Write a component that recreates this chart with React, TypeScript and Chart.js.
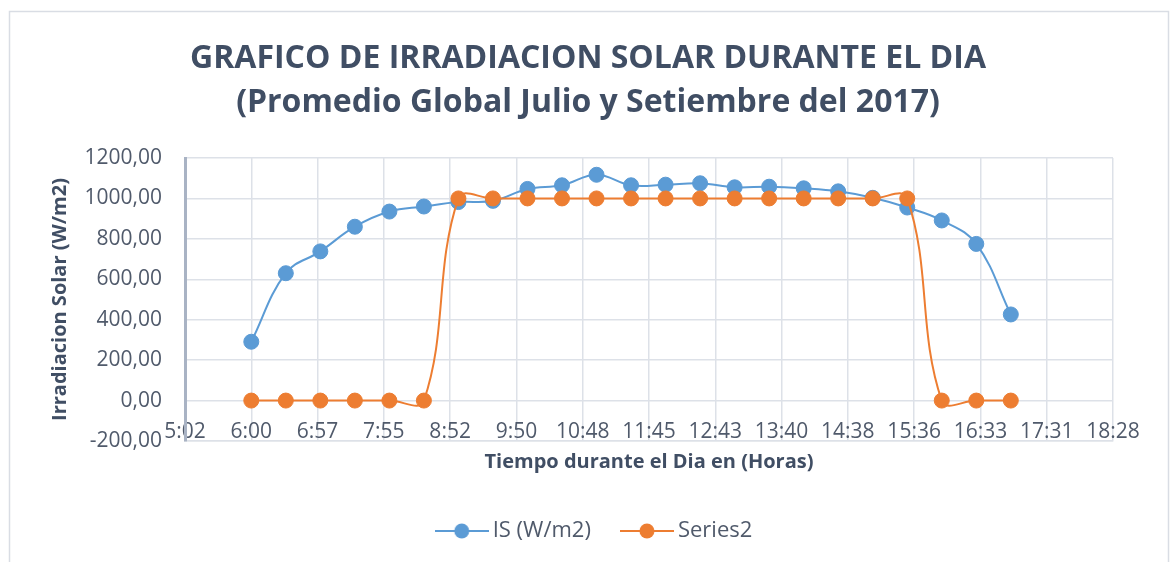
import React, { useEffect, useRef } from 'react';
import { Chart, registerables } from 'chart.js';

Chart.register(...registerables);

// ---- data ----
const times = ['6:00', '6:30', '7:00', '7:30', '8:00', '8:30', '9:00', '9:30', '10:00', '10:30', '11:00', '11:30',
  '12:00', '12:30', '13:00', '13:30', '14:00', '14:30', '15:00', '15:30', '16:00', '16:30', '17:00'];
const irradiance = [291, 630, 738, 860, 935, 960, 982, 988, 1047, 1065, 1117, 1065,
  1068, 1075, 1055, 1058, 1050, 1035, 1003, 955, 891, 775, 426];
const series2 = [0, 0, 0, 0, 0, 0, 1000, 1000, 1000, 1000, 1000, 1000,
  1000, 1000, 1000, 1000, 1000, 1000, 1000, 1000, 0, 0, 0];
const seriesNames = ['IS (W/m2)', 'Series2'];
const seriesColors = ['#5b9bd5', '#ed7d31'];
const xTickLabels = ['5:02', '6:00', '6:57', '7:55', '8:52', '9:50', '10:48', '11:45', '12:43', '13:40', '14:38',
  '15:36', '16:33', '17:31', '18:28'];
const X_MIN = 302.4; // minutes (5:02.4)
const X_STEP = 57.6;
const X_MAX = 1108.8;
const Y_MIN = -200;
const Y_MAX = 1200;
const Y_STEP = 200;
const titleLines = ['GRAFICO DE IRRADIACION SOLAR DURANTE EL DIA', '(Promedio Global Julio y Setiembre del 2017)'];
const yTitle = 'Irradiacion Solar (W/m2)';
const xTitle = 'Tiempo durante el Dia en (Horas)';

const toMinutes = (t: string) => {
  const [h, m] = t.split(':').map(Number);
  return h * 60 + m;
};

const FONT = '"Open Sans", sans-serif';
const TEXT = '#505a6b';
const TITLE = '#404e64';
const GRID = '#dde1e8';

function legendSymbol(color: string) {
  const w = 54, h = 18;
  const c = document.createElement('canvas');
  c.width = w;
  c.height = h;
  const g = c.getContext('2d')!;
  g.strokeStyle = color;
  g.lineWidth = 2;
  g.beginPath();
  g.moveTo(0, h / 2);
  g.lineTo(w, h / 2);
  g.stroke();
  g.fillStyle = color;
  g.beginPath();
  g.arc(w / 2, h / 2, 7.5, 0, Math.PI * 2);
  g.fill();
  return c;
}

const framePlugin = {
  id: 'frame',
  afterLayout(chart: any) {
    if (chart.legend) {
      chart.legend.left += 9;
      chart.legend.right += 9;
    }
  },
  beforeDraw(chart: any) {
    const { ctx } = chart;
    ctx.save();
    ctx.fillStyle = '#ffffff';
    ctx.fillRect(0, 0, chart.width, chart.height);
    ctx.strokeStyle = '#d9dde4';
    ctx.lineWidth = 1.5;
    ctx.strokeRect(9.5, 11.5, 1159, 620);
    ctx.restore();
  },
};

export default function App() {
  const ref = useRef<HTMLCanvasElement>(null);

  useEffect(() => {
    document.body.style.margin = '0';
    const symbols = seriesColors.map(legendSymbol);
    const datasets = [irradiance, series2].map((vals, i) => ({
      label: seriesNames[i],
      data: times.map((t, j) => ({ x: toMinutes(t), y: vals[j] })),
      borderColor: seriesColors[i],
      backgroundColor: seriesColors[i],
      pointBackgroundColor: seriesColors[i],
      pointBorderColor: seriesColors[i],
      pointRadius: 7.5,
      pointBorderWidth: 1,
      borderWidth: 2,
      tension: 0.4,
      order: i === 0 ? 1 : 0,
    }));

    const chart = new Chart(ref.current!, {
      type: 'line',
      data: { datasets },
      plugins: [framePlugin],
      options: {
        responsive: false,
        animation: false,
        font: { family: FONT },
        layout: { padding: { left: 0, right: 0, top: 0, bottom: 10 } },
        plugins: {
          title: {
            display: true,
            text: titleLines,
            color: TITLE,
            font: { family: FONT, size: 32, weight: 'bold', lineHeight: 1.375 },
            padding: { top: 37, bottom: 33 },
          },
          legend: {
            position: 'bottom',
            labels: {
              usePointStyle: true,
              pointStyleWidth: 40,
              padding: 36,
              color: TEXT,
              font: { family: FONT, size: 22 },
              generateLabels: (c: any) =>
                c.data.datasets.map((ds: any, i: number) => ({
                  text: ds.label,
                  fillStyle: ds.borderColor,
                  strokeStyle: ds.borderColor,
                  lineWidth: 0,
                  pointStyle: symbols[i],
                  hidden: false,
                  datasetIndex: i,
                  fontColor: TEXT,
                })),
            },
          },
          tooltip: { enabled: false },
        },
        scales: {
          x: {
            type: 'linear',
            min: X_MIN,
            max: X_MAX,
            afterBuildTicks: (s: any) => {
              s.ticks = xTickLabels.map((_, i) => ({ value: X_MIN + i * X_STEP }));
            },
            afterFit: (s: any) => {
              s.height = 43;
            },
            ticks: {
              autoSkip: false,
              maxRotation: 0,
              mirror: true,
              padding: -4,
              color: TEXT,
              font: { family: FONT, size: 21 },
              callback: (_v: any, i: number) => xTickLabels[i],
            },
            grid: { color: GRID, lineWidth: 1.5, drawTicks: false },
            border: { color: GRID, width: 1.5 },
            title: {
              display: true,
              text: xTitle,
              color: TITLE,
              font: { family: FONT, size: 20, weight: 'bold' },
              padding: { top: 0, bottom: 10 },
            },
          },
          y: {
            min: Y_MIN,
            max: Y_MAX,
            afterFit: (s: any) => {
              s.width = 185;
            },
            ticks: {
              stepSize: Y_STEP,
              padding: 23,
              color: TEXT,
              font: { family: FONT, size: 21 },
              callback: (v: any) => Number(v).toFixed(2).replace('.', ','),
            },
            grid: { color: GRID, lineWidth: 1.5, drawTicks: false },
            border: { color: '#a9b3c4', width: 3 },
            title: {
              display: true,
              text: yTitle,
              color: TITLE,
              font: { family: FONT, size: 20, weight: 'bold' },
              padding: { top: 48, bottom: 0 },
            },
          },
          yRightSpace: {
            position: 'right',
            afterFit: (s: any) => {
              s.width = 63;
            },
            ticks: { display: false },
            grid: { display: false, drawTicks: false },
            border: { display: false },
          },
        },
      } as any,
    });
    return () => chart.destroy();
  }, []);

  return (
    <div style={{ width: 1176, height: 562 }}>
      <canvas ref={ref} width={1176} height={562} style={{ display: 'block' }} />
    </div>
  );
}
